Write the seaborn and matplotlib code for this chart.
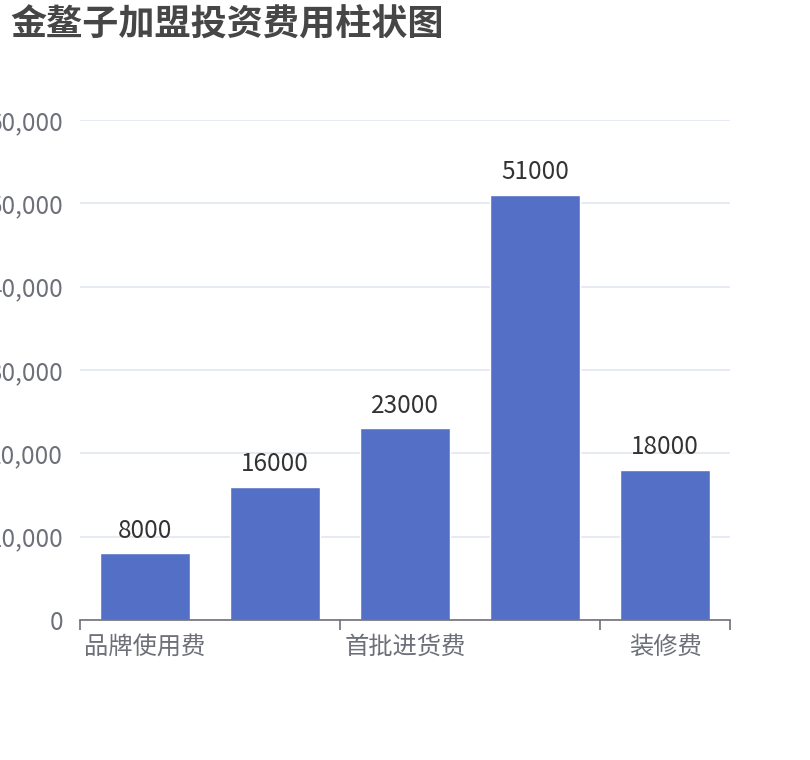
import matplotlib
matplotlib.use("Agg")
import matplotlib.pyplot as plt
import seaborn as sns
import pandas as pd
from matplotlib.ticker import FuncFormatter, FixedLocator

categories = ["品牌使用费", "加盟费", "首批进货费", "设备费", "装修费"]
values = [8000, 16000, 23000, 51000, 18000]
shown_labels = {0: "品牌使用费", 2: "首批进货费", 4: "装修费"}
title = "金鳌子加盟投资费用柱状图"

sns.set_theme(style="white")
plt.rcParams['font.family'] = ['Noto Sans CJK SC', 'DejaVu Sans']

df = pd.DataFrame({"cat": categories, "val": values})

fig = plt.figure(figsize=(8.1, 7.6), dpi=100)
ax = fig.add_axes([80/810, 140/760, 650/810, 500/760])

sns.barplot(data=df, x="cat", y="val", color="#5470c6", width=0.69,
            saturation=1, ax=ax, zorder=3)

ax.set_xlim(-0.5, 4.5)
ax.set_ylim(0, 60000)
ax.set_yticks(range(0, 60001, 10000))
ax.yaxis.set_major_formatter(FuncFormatter(lambda v, p: f"{int(v):,}"))
ax.grid(axis="y", color="#e0e6f1", linewidth=1.2, zorder=0)
ax.set_axisbelow(True)

# x ticks at category boundaries, labels at category centers
ax.xaxis.set_major_locator(FixedLocator([-0.5, 1.5, 3.5, 4.5]))
ax.set_xticklabels([])
ax.tick_params(axis="x", which="major", bottom=True, length=7, width=1.2,
               color="#6e7079", direction="out")
ax.set_xticks(list(shown_labels.keys()), minor=True)
ax.set_xticklabels(list(shown_labels.values()), minor=True)
ax.tick_params(axis="x", which="minor", bottom=True, length=0, pad=10,
               labelsize=17.5, labelcolor="#6e7079")

ax.tick_params(axis="y", left=False, length=0, pad=12, labelsize=17.5, labelcolor="#6e7079")
ax.set_xlabel("")
ax.set_ylabel("")

for s in ["top", "right", "left"]:
    ax.spines[s].set_visible(False)
ax.spines["bottom"].set_color("#6e7079")
ax.spines["bottom"].set_linewidth(1.2)
ax.spines["bottom"].set_zorder(4)

for i, v in enumerate(values):
    ax.annotate(str(v), xy=(i, v), xytext=(0, 7), textcoords="offset points",
                ha="center", va="bottom", fontsize=17.5, color="#333333")

fig.text(10/810, 1 - 25/760, title, fontsize=26, fontweight="bold",
         color="#464646", ha="left", va="center")

fig.savefig("out.png", dpi=100)
